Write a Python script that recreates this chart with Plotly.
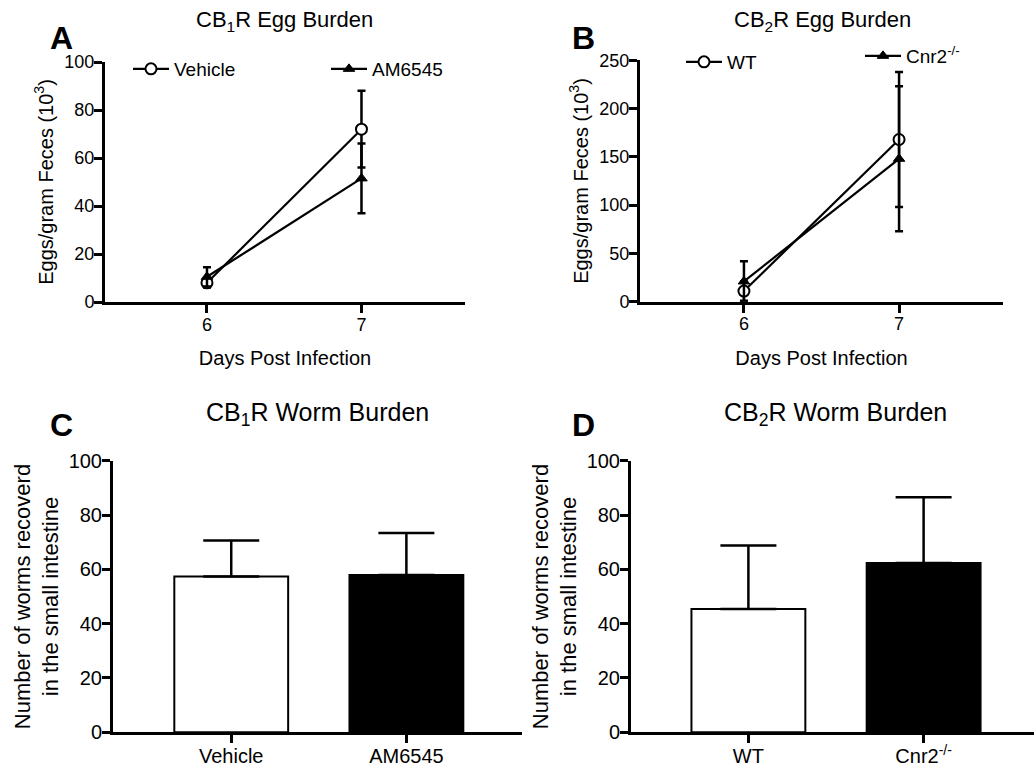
import plotly.graph_objects as go

# ---------------- data ----------------
days = [6, 7]
vehicle_egg = [8, 72]
vehicle_egg_err = [2, 16]
am6545_egg = [10.5, 51.5]
am6545_egg_err = [4, 14.5]
wt_egg = [11, 168]
wt_egg_err = [10, 70]
cnr2_egg = [21, 148]
cnr2_egg_err = [21, 75]

cb1_groups = ["Vehicle", "AM6545"]
cb1_worms = [57.4, 57.9]
cb1_worms_err = [13.2, 15.5]
cb2_groups = ["WT", "Cnr2<sup>-/-</sup>"]
cb2_worms = [45.4, 62.3]
cb2_worms_err = [23.4, 24.2]

egg_ticks_a = [0, 20, 40, 60, 80, 100]
egg_ticks_b = [0, 50, 100, 150, 200, 250]
worm_ticks = [0, 20, 40, 60, 80, 100]

# ---------------- layout helpers ----------------
W, H = 1034, 768
FONT = "Arial, 'Liberation Sans', sans-serif"


def xd(a, b):
    return [a / W, b / W]


def yd(top, bottom):
    return [1 - bottom / H, 1 - top / H]


fig = go.Figure()

err_style = dict(type="data", color="black", thickness=2.5, width=4)
line_style = dict(color="black", width=2.2)

# Panel A
fig.add_trace(go.Scatter(
    x=days, y=vehicle_egg, mode="lines+markers", name="Vehicle",
    line=line_style,
    marker=dict(symbol="circle", size=11, color="white", line=dict(color="black", width=2)),
    error_y=dict(array=vehicle_egg_err, **err_style),
    xaxis="x", yaxis="y", legend="legend", cliponaxis=False))
fig.add_trace(go.Scatter(
    x=days, y=am6545_egg, mode="lines+markers", name="AM6545",
    line=line_style,
    marker=dict(symbol="triangle-up", size=10, color="black", line=dict(color="black", width=1)),
    error_y=dict(array=am6545_egg_err, **err_style),
    xaxis="x", yaxis="y", legend="legend2", cliponaxis=False))

# Panel B
fig.add_trace(go.Scatter(
    x=days, y=wt_egg, mode="lines+markers", name="WT",
    line=line_style,
    marker=dict(symbol="circle", size=11, color="white", line=dict(color="black", width=2)),
    error_y=dict(array=wt_egg_err, **err_style),
    xaxis="x2", yaxis="y2", legend="legend3", cliponaxis=False))
fig.add_trace(go.Scatter(
    x=days, y=cnr2_egg, mode="lines+markers", name="Cnr2<sup>-/-</sup>",
    line=line_style,
    marker=dict(symbol="triangle-up", size=10, color="black", line=dict(color="black", width=1)),
    error_y=dict(array=cnr2_egg_err, **err_style),
    xaxis="x2", yaxis="y2", legend="legend4", cliponaxis=False))

bar_err = dict(type="data", symmetric=False, color="black", thickness=2.5, width=28)

# Panel C
fig.add_trace(go.Bar(
    x=cb1_groups, y=cb1_worms, width=0.65,
    marker=dict(color=["white", "black"], line=dict(color="black", width=2)),
    error_y=dict(array=cb1_worms_err, arrayminus=[0, 0], **bar_err),
    xaxis="x3", yaxis="y3", showlegend=False))

# Panel D
fig.add_trace(go.Bar(
    x=cb2_groups, y=cb2_worms, width=0.65,
    marker=dict(color=["white", "black"], line=dict(color="black", width=2)),
    error_y=dict(array=cb2_worms_err, arrayminus=[0, 0], **bar_err),
    xaxis="x4", yaxis="y4", showlegend=False))

ax_common = dict(showline=True, linecolor="black", linewidth=3, ticks="outside",
                 ticklen=8, tickwidth=3, tickcolor="black", showgrid=False,
                 zeroline=False, fixedrange=True, automargin=False,
                 ticklabelstandoff=-4)

tick_small = dict(family=FONT, size=18, color="black")
tick_big = dict(family=FONT, size=20, color="black")
title_small = dict(family=FONT, size=20, color="black")
title_big = dict(family=FONT, size=22, color="black")

legend_common = dict(orientation="v", xanchor="left", yanchor="middle",
                     bgcolor="rgba(0,0,0,0)", borderwidth=0,
                     font=dict(family=FONT, size=19, color="black"),
                     tracegroupgap=0, itemwidth=36)

fig.update_layout(
    width=W, height=H,
    margin=dict(l=0, r=0, t=0, b=0, pad=0, autoexpand=False),
    paper_bgcolor="white", plot_bgcolor="white",
    font=dict(family=FONT, color="black"),
    bargap=0.35,
    xaxis=dict(domain=xd(105, 465), range=[5.34, 7.67], tickvals=days,
               tickfont=tick_small, anchor="y",
               title=dict(text="Days Post Infection", font=title_small, standoff=18), **ax_common),
    yaxis=dict(domain=yd(62, 302), range=[0, 100], tickvals=egg_ticks_a,
               tickfont=tick_small, anchor="x",
               title=dict(text="Eggs/gram Feces (10<sup>3</sup>)", font=title_small, standoff=6), **ax_common),
    xaxis2=dict(domain=xd(640, 1003), range=[5.33, 7.67], tickvals=days,
                tickfont=tick_small, anchor="y2",
                title=dict(text="Days Post Infection", font=title_small, standoff=18), **ax_common),
    yaxis2=dict(domain=yd(60.3, 301.7), range=[0, 250], tickvals=egg_ticks_b,
                tickfont=tick_small, anchor="x2",
                title=dict(text="Eggs/gram Feces (10<sup>3</sup>)", font=title_small, standoff=6), **ax_common),
    xaxis3=dict(domain=xd(113, 522), range=[-0.675, 1.66], type="category",
                tickfont=tick_big, anchor="y3", **ax_common),
    yaxis3=dict(domain=yd(460.7, 732.3), range=[0, 100], tickvals=worm_ticks,
                tickfont=tick_big, anchor="x3",
                title=dict(text="Number of worms recoverd<br>in the small intestine",
                           font=title_big, standoff=4), **ax_common),
    xaxis4=dict(domain=xd(631, 1034), range=[-0.67, 1.63], type="category",
                tickfont=tick_big, anchor="y4", **ax_common),
    yaxis4=dict(domain=yd(460.7, 732.3), range=[0, 100], tickvals=worm_ticks,
                tickfont=tick_big, anchor="x4",
                title=dict(text="Number of worms recoverd<br>in the small intestine",
                           font=title_big, standoff=4), **ax_common),
    legend=dict(x=128 / W, y=1 - 69 / H, **legend_common),
    legend2=dict(x=326 / W, y=1 - 69 / H, **legend_common),
    legend3=dict(x=681 / W, y=1 - 62 / H, **legend_common),
    legend4=dict(x=860 / W, y=1 - 56 / H, **legend_common),
)

annotations = [
    ("CB<sub>1</sub>R Egg Burden", 284, 21, 22),
    ("CB<sub>2</sub>R Egg Burden", 822, 21, 22),
    ("CB<sub>1</sub>R Worm Burden", 317, 414, 25),
    ("CB<sub>2</sub>R Worm Burden", 835, 414, 25),
    ("<b>A</b>", 61, 38, 32),
    ("<b>B</b>", 583, 38, 32),
    ("<b>C</b>", 61, 425, 32),
    ("<b>D</b>", 583, 425, 32),
]
for text, px, py, size in annotations:
    fig.add_annotation(text=text, x=px / W, y=1 - py / H, xref="paper", yref="paper",
                       xanchor="center", yanchor="middle", showarrow=False,
                       font=dict(family=FONT, size=size, color="black"))

fig.write_html(
    "out.html",
    config={"displayModeBar": False},
    post_script="document.body.style.margin='0px';document.body.style.overflow='hidden';",
)
